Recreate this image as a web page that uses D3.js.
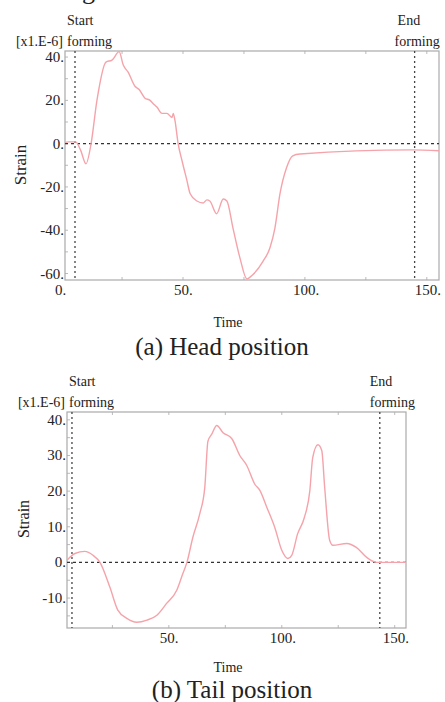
<!DOCTYPE html>
<html lang="en">
  <head>
    <meta charset="utf-8">
    <title>Strain_Head_Tail</title>
    <script src="https://d3js.org/d3.v7.js"></script>
    <style>
      body { margin: 0; background: white; }
      text { font-family: "Liberation Serif", "Times New Roman", serif; fill: #222; }
    </style>
  </head>

  <body>
  <script>

    // Data (time, strain x1.E-6)

    const headTime   = [0, 3, 6, 8, 10.2, 12.3, 14.7, 18.4, 20.9, 23.8, 25.5, 27.5, 30.3, 32, 34.4, 36.5, 37.7, 39.3, 41.4, 43.4, 45.5, 46, 46.7, 48, 49.6, 51.6, 52.9, 55.7, 58.3, 59.8, 61, 63.8, 66.5, 68, 70.5, 73.4, 76.2, 78.7, 82.8, 85.7, 87.7, 89.8, 92.5, 95, 98, 144, 155];
    const headStrain = [0, 0.8, 0.8, -3, -9.3, 0, 20, 37.7, 38.6, 42.5, 36.3, 33, 26.5, 25, 21, 20, 18.6, 16.9, 14, 14, 12.1, 14, 10.7, 0, -7.9, -17, -23, -26.5, -27.4, -26, -26.5, -32.4, -25.6, -26.5, -39, -53, -62.5, -60.5, -54.4, -48, -39, -23, -11, -5.6, -4.8, -2.9, -3.3];

    const tailTime   = [4.9, 8.4, 12.8, 16.4, 19.5, 23.9, 27.4, 31.4, 35.8, 40.3, 44.7, 49, 53.5, 56.2, 58, 60.6, 63.7, 65.9, 67.3, 69, 71.2, 74, 77.9, 81.4, 84.5, 88, 90.3, 93.4, 96.9, 100, 102.7, 104.4, 107, 110, 112.4, 113.7, 116, 117.7, 119, 121.2, 122.6, 128.8, 133, 137.6, 142, 155];
    const tailStrain = [0.6, 2.5, 3.1, 2, 0, -7, -13.4, -15.7, -16.8, -16.2, -14.8, -11.5, -7.8, -3.1, 0, 7, 13.7, 21, 34, 36, 38.4, 36.4, 34.7, 30, 27.2, 22, 20.2, 15.4, 9.8, 3.4, 1.1, 2, 8, 12.6, 20, 29.4, 33, 31.4, 21, 6.2, 4.8, 5.3, 4.2, 1.4, 0, 0];

    const headXTicks = [0, 50, 100, 150];
    const headYTicks = [-60, -40, -20, 0, 20, 40];
    const tailXTicks = [50, 100, 150];
    const tailYTicks = [-10, 0, 10, 20, 30, 40];

    const panels = [
      {time: headTime, strain: headStrain, xTicks: headXTicks, yTicks: headYTicks,
       xDomain: [1.6, 155], yDomain: [-63, 42.8], yMinor: 10,
       left: 65, right: 439, top: 51, bottom: 280,
       start: 5.7, end: 145, caption: "(a) Head position",
       topText: 25, strainX: 20, strainY: 165, strainSize: 17, endDx: [-17, -20],
       timeY: 327, captionX: 222, captionY: 355},
      {time: tailTime, strain: tailStrain, xTicks: tailXTicks, yTicks: tailYTicks,
       xDomain: [4.9, 155], yDomain: [-18.4, 42.2], yMinor: 5,
       left: 67, right: 406, top: 412, bottom: 628,
       start: 7.1, end: 143.4, caption: "(b) Tail position",
       topText: 386, strainX: 24, strainY: 519, strainSize: 16, endDx: [-10, -10],
       timeY: 672, captionX: 232, captionY: 698}
    ];

    const svg = d3.select("body")
                  .append("svg")
                  .attr("width", 445)
                  .attr("height", 702);

    svg.append("rect")
       .attr("width", 445)
       .attr("height", 702)
       .attr("fill", "white");

    // bottom of a letter cut off at the very top of the picture
    svg.append("text")
       .attr("x", 82)
       .attr("y", -1)
       .style("font-size", "26px")
       .text("g");

    panels.forEach((p, i) => {

      const x = d3.scaleLinear().domain(p.xDomain).range([p.left, p.right]);
      const y = d3.scaleLinear().domain(p.yDomain).range([p.bottom, p.top]);

      const g = svg.append("g");

      // minor ticks on frame
      const xMinor = d3.range(0, 151, 25).filter(t => t >= p.xDomain[0] && t <= p.xDomain[1]);
      const yMinor = d3.range(-60, 41, p.yMinor).filter(v => v >= p.yDomain[0] && v <= p.yDomain[1]);

      g.selectAll(".xm").data(xMinor).enter().append("line")
       .attr("x1", d => x(d)).attr("x2", d => x(d))
       .attr("y1", p.top).attr("y2", p.top + 3)
       .attr("stroke", "#bbb");
      g.selectAll(".xb").data(xMinor).enter().append("line")
       .attr("x1", d => x(d)).attr("x2", d => x(d))
       .attr("y1", p.bottom).attr("y2", p.bottom - 3)
       .attr("stroke", "#bbb");
      g.selectAll(".ym").data(yMinor).enter().append("line")
       .attr("x1", p.left).attr("x2", p.left + 3)
       .attr("y1", d => y(d)).attr("y2", d => y(d))
       .attr("stroke", "#bbb");

      // frame
      g.append("rect")
       .attr("x", p.left)
       .attr("y", p.top)
       .attr("width", p.right - p.left)
       .attr("height", p.bottom - p.top)
       .attr("fill", "none")
       .attr("stroke", "#aaa")
       .attr("stroke-width", 1.2);

      // dashed reference lines
      g.append("line")
       .attr("x1", p.left).attr("x2", p.right)
       .attr("y1", y(0)).attr("y2", y(0))
       .attr("stroke", "#333").attr("stroke-width", 1.3)
       .attr("stroke-dasharray", "3,3");

      [p.start, p.end].forEach(t => {
        g.append("line")
         .attr("x1", x(t)).attr("x2", x(t))
         .attr("y1", p.top).attr("y2", p.bottom)
         .attr("stroke", "#444").attr("stroke-width", 1.3)
         .attr("stroke-dasharray", "2,3");
      });

      // curve
      svg.append("clipPath")
         .attr("id", "clip" + i)
         .append("rect")
         .attr("x", p.left).attr("y", p.top)
         .attr("width", p.right - p.left).attr("height", p.bottom - p.top);

      const pts = p.time.map((t, k) => [t, p.strain[k]]);
      const line = d3.line()
                     .x(d => x(d[0]))
                     .y(d => y(d[1]))
                     .curve(d3.curveMonotoneX);

      g.append("path")
       .datum(pts)
       .attr("clip-path", `url(#clip${i})`)
       .attr("d", line)
       .attr("fill", "none")
       .attr("stroke", "#f5a3aa")
       .attr("stroke-width", 1.4);

      // tick labels
      g.selectAll(".yl").data(p.yTicks).enter().append("text")
       .attr("x", p.left - 1)
       .attr("y", d => y(d) + 5)
       .attr("text-anchor", "end")
       .style("font-size", "15px")
       .text(d => d + ".");

      g.selectAll(".xl").data(p.xTicks).enter().append("text")
       .attr("x", d => x(d) - 5)
       .attr("y", p.bottom + 15)
       .style("font-size", "15px")
       .text(d => d + ".")
       .attr("dx", d => d === 0 ? -1 : (d >= 100 ? -7 : -4));

      // annotations
      g.append("text").attr("x", p.left + 2).attr("y", p.topText)
       .style("font-size", "14px").text("Start");
      g.append("text").attr("x", p.left - 2).attr("y", p.topText + 21)
       .attr("text-anchor", "end")
       .style("font-size", "14px").text("[x1.E-6]");
      g.append("text").attr("x", p.left + 2).attr("y", p.topText + 21)
       .style("font-size", "14px").text("forming");
      g.append("text").attr("x", x(p.end) + p.endDx[0]).attr("y", p.topText)
       .style("font-size", "14px").text("End");
      g.append("text").attr("x", x(p.end) + p.endDx[1]).attr("y", p.topText + 21)
       .style("font-size", "14px").text("forming");

      g.append("text")
       .attr("transform", `translate(${p.strainX + p.strainSize / 2 - 3}, ${p.strainY}) rotate(-90)`)
       .attr("text-anchor", "middle")
       .style("font-size", p.strainSize + "px")
       .text("Strain");

      g.append("text")
       .attr("x", 228).attr("y", p.timeY)
       .attr("text-anchor", "middle")
       .style("font-size", "14px")
       .text("Time");

      g.append("text")
       .attr("x", p.captionX).attr("y", p.captionY)
       .attr("text-anchor", "middle")
       .style("font-size", "25px")
       .text(p.caption);
    });

  </script>
  </body>
</html>
